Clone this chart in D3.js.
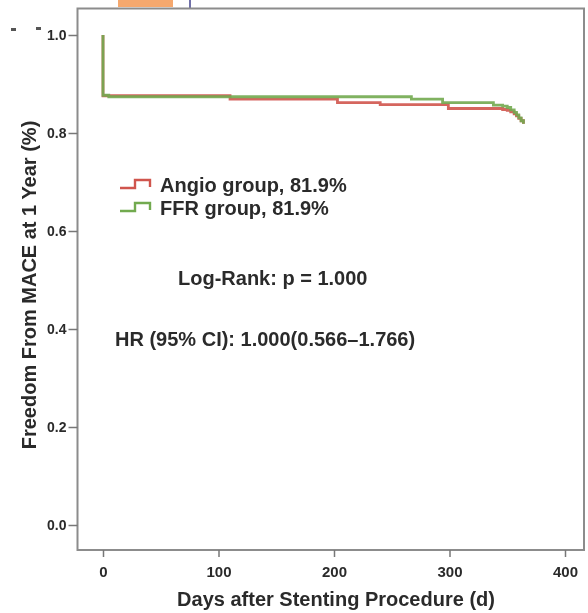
<!DOCTYPE html>
<html>
<head>
<meta charset="utf-8">
<script src="https://cdn.jsdelivr.net/npm/d3@7"></script>
<style>
  body { margin: 0; background: #fff; }
  text { font-family: "Liberation Sans", Arial, sans-serif; font-weight: bold; fill: #2b2b2b; }
</style>
</head>
<body>
<div id="chart"></div>
<script>
// Kaplan-Meier style step data (day, survival)
const angioDays = [0, 0, 110, 203, 240, 299, 346, 350, 353, 356, 358, 360, 362, 364];
const angioSurv = [1.0, 0.876, 0.869, 0.862, 0.858, 0.850, 0.848, 0.846, 0.843, 0.839, 0.835, 0.830, 0.825, 0.819];
const ffrDays = [0, 0, 5, 267, 294, 338, 346, 350, 353, 356, 358, 360, 362, 364];
const ffrSurv = [1.0, 0.877, 0.874, 0.869, 0.862, 0.857, 0.855, 0.852, 0.847, 0.842, 0.837, 0.831, 0.825, 0.819];

const xTicks = [0, 100, 200, 300, 400];
const yTicks = [0.0, 0.2, 0.4, 0.6, 0.8, 1.0];
const legendLabels = ["Angio group, 81.9%", "FFR group, 81.9%"];
const seriesColors = ["#d0544e", "#72aa50"];
const logRankText = "Log-Rank: p = 1.000";
const hrText = "HR (95% CI): 1.000(0.566\u20131.766)";

const width = 588, height = 613;
const frame = { left: 77.5, top: 8.5, right: 584, bottom: 550 };

const x = d3.scaleLinear().domain([0, 400]).range([103, 565]);
const y = d3.scaleLinear().domain([0, 1]).range([525, 35]);

const svg = d3.select("#chart")
  .append("svg")
  .attr("width", width)
  .attr("height", height);

// the reference is a soft, blurry screenshot
svg.append("defs").append("filter")
  .attr("id", "soft")
  .append("feGaussianBlur")
  .attr("stdDeviation", 0.65);

const g = svg.append("g").attr("filter", "url(#soft)");

// bits of the slide around the chart
g.append("rect").attr("x", 118).attr("y", 0).attr("width", 55).attr("height", 7).attr("fill", "#f5a86e");
g.append("rect").attr("x", 189).attr("y", 0).attr("width", 2).attr("height", 8).attr("fill", "#7070a8");
g.append("rect").attr("x", 11).attr("y", 28).attr("width", 5).attr("height", 3).attr("fill", "#555");
g.append("rect").attr("x", 36).attr("y", 27).attr("width", 5).attr("height", 3).attr("fill", "#555");

// plot frame
g.append("rect")
  .attr("x", frame.left)
  .attr("y", frame.top)
  .attr("width", frame.right - frame.left)
  .attr("height", frame.bottom - frame.top)
  .attr("fill", "none")
  .attr("stroke", "#8c8c8c")
  .attr("stroke-width", 2);

// y axis
const yAxis = g.append("g")
  .attr("transform", `translate(${frame.left},0)`)
  .call(d3.axisLeft(y).tickValues(yTicks).tickFormat(d3.format(".1f")).tickSize(9).tickPadding(2));
yAxis.select(".domain").remove();
yAxis.selectAll("line").attr("stroke", "#777").attr("stroke-width", 1.5);
yAxis.selectAll("text").style("font-size", "14px").attr("fill", "#2b2b2b");

// x axis
const xAxis = g.append("g")
  .attr("transform", `translate(0,${frame.bottom})`)
  .call(d3.axisBottom(x).tickValues(xTicks).tickSize(7).tickPadding(9));
xAxis.select(".domain").remove();
xAxis.selectAll("line").attr("stroke", "#777").attr("stroke-width", 1.5);
xAxis.selectAll("text").style("font-size", "15px").attr("fill", "#2b2b2b");

// axis titles
g.append("text")
  .attr("x", 336)
  .attr("y", 606)
  .attr("text-anchor", "middle")
  .style("font-size", "20px")
  .text("Days after Stenting Procedure (d)");

g.append("text")
  .attr("transform", "translate(36,285) rotate(-90)")
  .attr("text-anchor", "middle")
  .style("font-size", "20px")
  .text("Freedom From MACE at 1 Year (%)");

// survival curves
const series = [
  { days: angioDays, surv: angioSurv },
  { days: ffrDays, surv: ffrSurv }
];
const line = d3.line()
  .x(d => x(d[0]))
  .y(d => y(d[1]))
  .curve(d3.curveStepAfter);

g.selectAll(".km")
  .data(series)
  .enter()
  .append("path")
  .attr("class", "km")
  .attr("d", s => line(d3.zip(s.days, s.surv)))
  .attr("fill", "none")
  .attr("stroke", (d, i) => seriesColors[i])
  .attr("stroke-width", 2.8)
  .attr("stroke-opacity", 0.9);

// legend with little step icons
const legend = g.selectAll(".legend")
  .data(legendLabels)
  .enter()
  .append("g")
  .attr("class", "legend")
  .attr("transform", (d, i) => `translate(120,${188 + i * 23})`);

legend.append("path")
  .attr("d", "M0,0 H15 V-8 H30 V-1")
  .attr("fill", "none")
  .attr("stroke", (d, i) => seriesColors[i])
  .attr("stroke-width", 2.4);

legend.append("text")
  .attr("x", 40)
  .attr("y", 4)
  .style("font-size", "20px")
  .text(d => d);

// statistics
g.append("text")
  .attr("x", 178)
  .attr("y", 285)
  .style("font-size", "20px")
  .text(logRankText);

g.append("text")
  .attr("x", 115)
  .attr("y", 346)
  .style("font-size", "20px")
  .text(hrText);
</script>
</body>
</html>
